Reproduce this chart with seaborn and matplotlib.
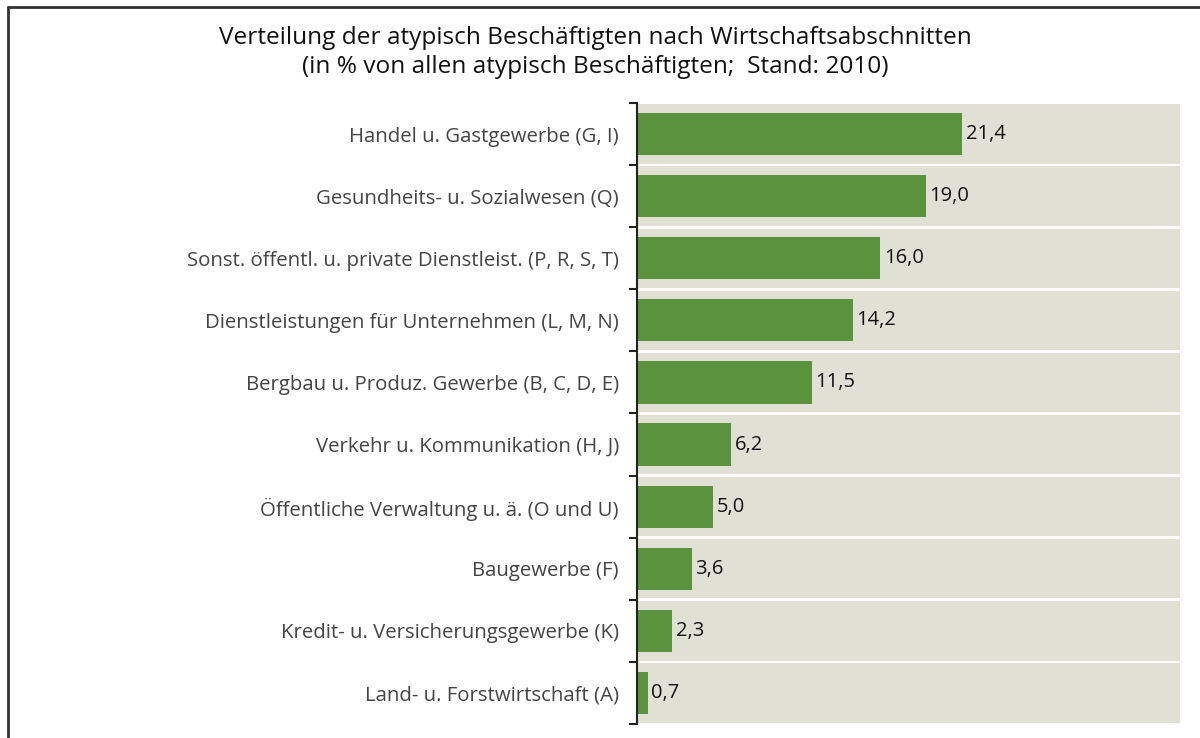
import matplotlib
matplotlib.use("Agg")
import matplotlib.pyplot as plt
import seaborn as sns
import pandas as pd
from matplotlib.lines import Line2D

categories = [
    "Handel u. Gastgewerbe (G, I)",
    "Gesundheits- u. Sozialwesen (Q)",
    "Sonst. öffentl. u. private Dienstleist. (P, R, S, T)",
    "Dienstleistungen für Unternehmen (L, M, N)",
    "Bergbau u. Produz. Gewerbe (B, C, D, E)",
    "Verkehr u. Kommunikation (H, J)",
    "Öffentliche Verwaltung u. ä. (O und U)",
    "Baugewerbe (F)",
    "Kredit- u. Versicherungsgewerbe (K)",
    "Land- u. Forstwirtschaft (A)",
]
values = [21.4, 19.0, 16.0, 14.2, 11.5, 6.2, 5.0, 3.6, 2.3, 0.7]
title_lines = [
    "Verteilung der atypisch Beschäftigten nach Wirtschaftsabschnitten",
    "(in % von allen atypisch Beschäftigten;  Stand: 2010)",
]

XMAX = 35.75
sns.set_theme(style="white")
plt.rcParams["font.family"] = ["Open Sans", "DejaVu Sans"]

df = pd.DataFrame({"cat": categories, "val": values, "full": [XMAX] * len(values)})

fig = plt.figure(figsize=(12, 7.38), dpi=100)
ax = fig.add_axes([637 / 1200, 1 - 724 / 738, (1180 - 637) / 1200, (724 - 103) / 738])

sns.barplot(data=df, y="cat", x="full", color="#e0e1d4", width=0.955, ax=ax,
            saturation=1, orient="h", linewidth=0, edgecolor="none")
sns.barplot(data=df, y="cat", x="val", color="#5b923d", width=0.68, ax=ax,
            saturation=1, orient="h", linewidth=0, edgecolor="none")

ax.set_xlim(0, XMAX)
ax.set_ylim(len(categories) - 0.5, -0.5)
ax.set_xlabel("")
ax.set_ylabel("")
ax.set_xticks([])

for i, v in enumerate(values):
    ax.text(v + 0.25, i, f"{v:.1f}".replace(".", ","), va="center", ha="left",
            fontsize=14.5, color="#111111")

for s in ["top", "right", "bottom"]:
    ax.spines[s].set_visible(False)
ax.spines["left"].set_color("#222222")
ax.spines["left"].set_linewidth(1.5)

ax.set_yticks(range(len(categories)))
ax.set_yticklabels(categories, fontsize=14.7, color="#444444")
ax.tick_params(axis="y", which="major", length=0, pad=13, left=False)
ax.set_yticks([i - 0.5 for i in range(len(categories) + 1)], minor=True)
ax.tick_params(axis="y", which="minor", left=True, length=6, width=1.5,
               color="#222222", direction="out")

fig.text(595 / 1200, 1 - 38 / 738, title_lines[0], ha="center", va="center",
         fontsize=17.6, color="#111111")
fig.text(595 / 1200, 1 - 67 / 738, title_lines[1], ha="center", va="center",
         fontsize=17.6, color="#111111")

fig.add_artist(Line2D([8 / 1200, 8 / 1200], [0, 1 - 7 / 738], transform=fig.transFigure,
                      color="#333333", lw=2))
fig.add_artist(Line2D([8 / 1200, 1], [1 - 7 / 738, 1 - 7 / 738], transform=fig.transFigure,
                      color="#333333", lw=2))

fig.savefig("out.png", dpi=100)
